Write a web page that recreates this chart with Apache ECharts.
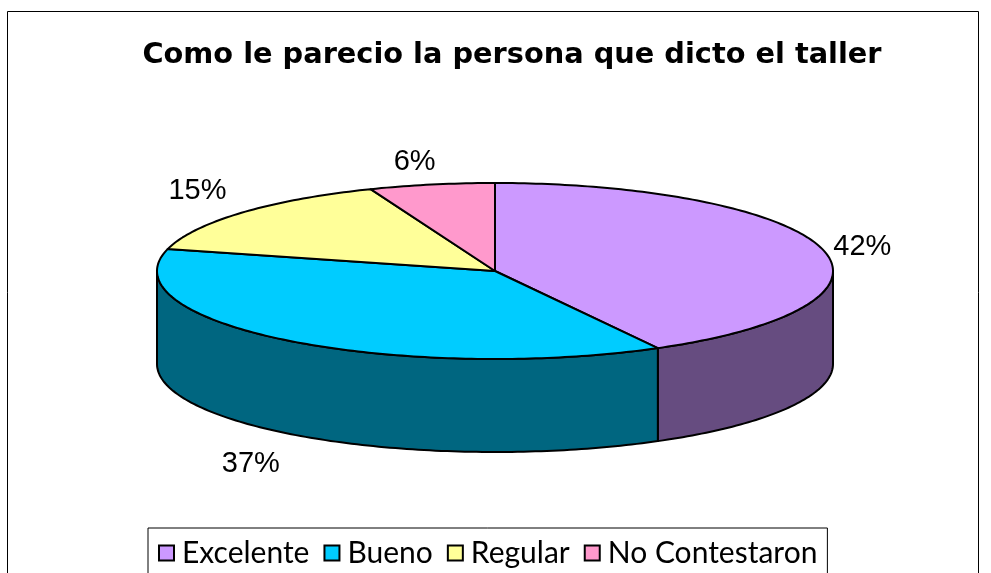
<!DOCTYPE html>
<html><head><meta charset="utf-8">
<style>html,body{margin:0;padding:0;background:#fff;overflow:hidden}#c{width:991px;height:573px}</style>
<script src="https://cdn.jsdelivr.net/npm/echarts@6/dist/echarts.min.js"></script>
</head><body><div id="c"></div>
<script>
const titleText = 'Como le parecio la persona que dicto el taller';
const categories = ['Excelente', 'Bueno', 'Regular', 'No Contestaron'];
const percents = [42, 37, 15, 6];
const topColors = ['#CC99FF', '#00CCFF', '#FFFF99', '#FF99CC'];
const wallColors = ['#664C80', '#006680', '#80804C', '#804C66'];
const labelOffsets = [[40, -2], [-37, 123], [-44, -22], [-17, -23]];

const CX = 495, CY = 271, RX = 338, RY = 88, DEPTH = 93;
const total = percents.reduce((a, b) => a + b, 0);
const pt = (deg, dy) => [CX + RX * Math.sin(deg * Math.PI / 180), CY - RY * Math.cos(deg * Math.PI / 180) + (dy || 0)];
const arc = (a, b, dy) => {
  const out = [], n = Math.max(2, Math.ceil(Math.abs(b - a)));
  for (let i = 0; i <= n; i++) out.push(pt(a + (b - a) * i / n, dy));
  return out;
};
const lineStyle = { stroke: '#000', lineWidth: 2, lineJoin: 'round' };

function sliceRenderer(idx) {
  const before = percents.slice(0, idx).reduce((a, b) => a + b, 0);
  return function (params, api) {
    const value = api.value(0);
    const a0 = before / total * 360, a1 = (before + value) / total * 360;
    const children = [];
    const w0 = Math.max(a0, 90), w1 = Math.min(a1, 270);
    if (w1 > w0) {
      const top = arc(w0, w1, 0), bot = arc(w1, w0, DEPTH);
      children.push({ type: 'polygon', shape: { points: top.concat(bot) },
        style: Object.assign({ fill: wallColors[idx] }, lineStyle) });
    }
    children.push({ type: 'polygon', shape: { points: [[CX, CY]].concat(arc(a0, a1, 0)) },
      style: Object.assign({ fill: topColors[idx] }, lineStyle) });
    const m = pt((a0 + a1) / 2, 0);
    children.push({ type: 'text', z2: 10, style: {
      x: m[0] + labelOffsets[idx][0], y: m[1] + labelOffsets[idx][1],
      text: value + '%', fill: '#000', align: 'center', verticalAlign: 'middle',
      font: '29px "Liberation Sans", Arial, sans-serif' } });
    return { type: 'group', children };
  };
}

const chart = echarts.init(document.getElementById('c'), null, { renderer: 'canvas' });
chart.setOption({
  animation: false,
  backgroundColor: '#fff',
  title: { text: titleText, left: 507, top: 36, textAlign: 'center',
    textStyle: { fontFamily: '"DejaVu Sans", sans-serif', fontWeight: 700, fontSize: 28.8, color: '#000' } },
  legend: {
    left: 148, top: 528, padding: [10, 10, 30, 10], itemGap: 14, itemWidth: 15, itemHeight: 15,
    borderColor: '#000', borderWidth: 1, backgroundColor: '#fff',
    selectedMode: false,
    textStyle: { fontFamily: 'Lato, sans-serif', fontSize: 30, color: '#000', padding: [0, 0, 0, 3] },
    data: categories.map((n, i) => ({ name: n, icon: 'rect',
      itemStyle: { color: topColors[i], borderColor: '#000', borderWidth: 2 } }))
  },
  graphic: [{ type: 'rect', z: -10, shape: { x: 7.5, y: 11.5, width: 971, height: 620 },
    style: { fill: '#fff', stroke: '#000', lineWidth: 1 } }],
  series: categories.map((n, i) => ({
    type: 'custom', name: n, coordinateSystem: 'none', silent: true,
    itemStyle: { color: topColors[i] },
    renderItem: sliceRenderer(i),
    data: [[percents[i]]]
  }))
});
</script></body></html>
